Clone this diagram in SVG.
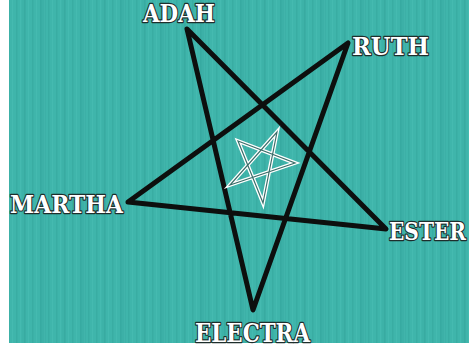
<svg xmlns="http://www.w3.org/2000/svg" width="469" height="349" viewBox="0 0 469 349">
  <defs>
    <pattern id="tex" width="8" height="6" patternUnits="userSpaceOnUse">
      <rect width="8" height="6" fill="#3fb5ab"/>
      <rect x="0" width="1.5" height="6" fill="#36a89e" opacity="0.6"/>
      <rect x="4" y="0" width="1" height="6" fill="#4cc0b6" opacity="0.5"/>
    </pattern>
    <pattern id="bands" width="40" height="349" patternUnits="userSpaceOnUse">
      <rect x="0" width="6" height="349" fill="#2f9d94" opacity="0.18"/>
      <rect x="22" width="4" height="349" fill="#2f9d94" opacity="0.12"/>
    </pattern>
  </defs>
  <style>
    .lbl { font-family: "DejaVu Serif", "Liberation Serif", serif; font-weight: bold; fill: #ffffff; stroke: #1e2e2c; stroke-width: 2.4; paint-order: stroke; stroke-linejoin: round; }
    .big { fill: none; stroke: #0d0f0e; stroke-width: 5; stroke-linejoin: round; stroke-linecap: round; }
    .sw { fill: none; stroke: #ffffff; stroke-width: 3.8; stroke-linejoin: miter; }
    .si { fill: none; stroke: #3a6e69; stroke-width: 1.2; stroke-linejoin: miter; }
  </style>
  <rect width="469" height="349" fill="#ffffff"/>
  <rect x="9" y="0" width="460" height="343" fill="url(#tex)"/>
  <rect x="9" y="0" width="460" height="343" fill="url(#bands)"/>

  <g id="connectors">
    <path class="big" d="M187,29 L386,229 L128,202 L348,43 L253,310 Z"/>
  </g>

  <g id="inner-star">
    <path class="sw" d="M277,132 L263,203 L238,141 L295,163 L230,185 Z"/>
    <path class="si" d="M277,132 L263,203 L238,141 L295,163 L230,185 Z"/>
  </g>

  <g id="adah"><text class="lbl" x="143" y="22" font-size="24" textLength="72" lengthAdjust="spacingAndGlyphs">ADAH</text></g>
  <g id="ruth"><text class="lbl" x="352" y="55" font-size="25" textLength="77" lengthAdjust="spacingAndGlyphs">RUTH</text></g>
  <g id="martha"><text class="lbl" x="10" y="213" font-size="25" textLength="113" lengthAdjust="spacingAndGlyphs">MARTHA</text></g>
  <g id="ester" transform="translate(389,240) scale(0.84,1)"><text class="lbl" x="0" y="0" font-size="24">ESTER</text></g>
  <g id="electra"><text class="lbl" x="195" y="342" font-size="26" textLength="115" lengthAdjust="spacingAndGlyphs">ELECTRA</text></g>
</svg>
